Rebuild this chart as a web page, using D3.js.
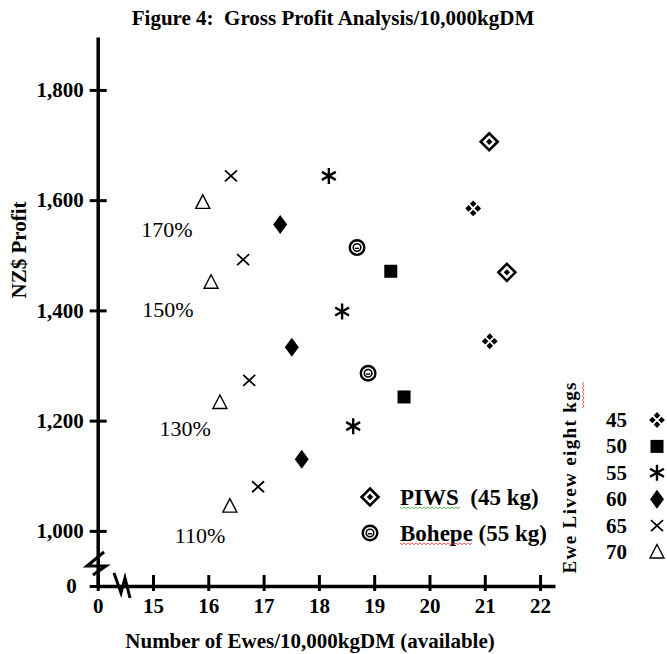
<!DOCTYPE html>
<html>
<head>
<meta charset="utf-8">
<script src="https://cdn.jsdelivr.net/npm/d3@7"></script>
<style>
  body { margin: 0; background: #fff; }
  text { font-family: "Liberation Serif", "Times New Roman", serif; fill: #000; white-space: pre; }
</style>
</head>
<body>
<div id="chart"></div>
<script>
// values
const weights = [45, 50, 55, 60, 65, 70];
// ewes per 10,000kgDM, one list per liveweight
const ewes = [
    [20.79, 21.09],
    [19.30, 19.54],
    [18.18, 18.42, 18.62],
    [17.30, 17.51, 17.69],
    [16.41, 16.63, 16.74, 16.90],
    [15.90, 16.05, 16.21, 16.39]
];
// NZ$ profit, same order
const profit = [
    [1585, 1344],
    [1471, 1243],
    [1644, 1398, 1190],
    [1556, 1333, 1130],
    [1644, 1492, 1273, 1080],
    [1596, 1451, 1233, 1045]
];
const piwsEwes = [21.08, 21.40];
const piwsProfit = [1706, 1469];
const bohepeEwes = [18.69, 18.89];
const bohepeProfit = [1514, 1286];

// lambing % annotations
const pctLabels = ['170%', '150%', '130%', '110%'];
const pctEwes = [15.25, 15.27, 15.58, 15.85];
const pctProfit = [1547, 1402, 1186, 991];

// broken axes: 14 and 900 stand for the "0" origin
const xTicks = [14, 15, 16, 17, 18, 19, 20, 21, 22];
const xTickLabels = ['0', '15', '16', '17', '18', '19', '20', '21', '22'];
const yTicks = [900, 1000, 1200, 1400, 1600, 1800];
const yTickLabels = ['0', '1,000', '1,200', '1,400', '1,600', '1,800'];

const width = 667,
    height = 654;

const svg = d3.select('#chart')
    .append('svg')
    .attr('width', width)
    .attr('height', height);

const x = d3.scaleLinear().domain([14, 22.27]).range([97.7, 555]);
const y = d3.scaleLinear().domain([900, 1896]).range([586, 37]);

// x axis
const gx = svg.append('g')
    .attr('transform', `translate(0,${y(900)})`)
    .call(d3.axisBottom(x)
        .tickValues(xTicks)
        .tickFormat((d, i) => xTickLabels[i])
        .tickSizeOuter(0));
gx.select('.domain').attr('stroke-width', 3.5);
gx.selectAll('.tick line').attr('y1', -11).attr('y2', 5).attr('stroke-width', 3);
gx.selectAll('.tick text')
    .attr('y', 12)
    .attr('font-size', 21)
    .attr('font-weight', 'bold')
    .attr('font-family', 'Liberation Serif');

// y axis
const gy = svg.append('g')
    .attr('transform', `translate(${x(14)},0)`)
    .call(d3.axisLeft(y)
        .tickValues(yTicks)
        .tickFormat((d, i) => yTickLabels[i])
        .tickSizeOuter(0));
gy.select('.domain').attr('stroke-width', 3.5);
gy.selectAll('.tick line').attr('x1', -8).attr('x2', 9).attr('stroke-width', 3);
gy.selectAll('.tick text')
    .attr('x', -14)
    .attr('font-size', 21)
    .attr('font-weight', 'bold')
    .attr('font-family', 'Liberation Serif');
gy.selectAll('.tick').filter(d => d === 900).select('text').attr('x', -21);

// axis break marks
const brk = svg.append('g')
    .attr('fill', 'none')
    .attr('stroke', '#000')
    .attr('stroke-width', 3)
    .attr('stroke-linejoin', 'miter');
brk.append('path').attr('d', 'M104,552 L87,566 L106,566 L93,575');
brk.append('path').attr('d', 'M114,573 L121,593 L125,578 L130,598');

// marker shapes
const shapes = {
    45: g => {
        const p = d3.path();
        [[0, -4.6], [4.6, 0], [0, 4.6], [-4.6, 0]].forEach(([dx, dy]) => {
            p.moveTo(dx, dy - 3.3);
            p.lineTo(dx + 3.3, dy);
            p.lineTo(dx, dy + 3.3);
            p.lineTo(dx - 3.3, dy);
            p.closePath();
        });
        g.append('path').attr('d', p.toString()).attr('fill', '#000');
    },
    50: g => {
        g.append('rect').attr('x', -6.5).attr('y', -6.5)
            .attr('width', 13).attr('height', 13).attr('fill', '#000');
    },
    55: g => {
        const p = d3.path();
        [90, 30, 150].forEach(a => {
            const r = 8, t = a * Math.PI / 180;
            p.moveTo(r * Math.cos(t), r * Math.sin(t));
            p.lineTo(-r * Math.cos(t), -r * Math.sin(t));
        });
        g.append('path').attr('d', p.toString())
            .attr('stroke', '#000').attr('stroke-width', 2.4).attr('fill', 'none');
    },
    60: g => {
        g.append('path').attr('d', 'M0,-9.5L7,0L0,9.5L-7,0Z').attr('fill', '#000');
    },
    65: g => {
        g.append('path').attr('d', 'M-6,-5.5L6,5.5M-6,5.5L6,-5.5')
            .attr('stroke', '#000').attr('stroke-width', 1.8).attr('fill', 'none');
    },
    70: g => {
        g.append('path').attr('d', 'M0,-7.5L7,6L-7,6Z')
            .attr('stroke', '#000').attr('stroke-width', 1.4).attr('fill', 'none');
    },
    piws: g => {
        g.append('path').attr('d', 'M0,-8.5L8.5,0L0,8.5L-8.5,0Z')
            .attr('stroke', '#000').attr('stroke-width', 2.6).attr('fill', 'none');
        g.append('path').attr('d', 'M0,-3.2L3.2,0L0,3.2L-3.2,0Z').attr('fill', '#000');
    },
    bohepe: g => {
        g.append('circle').attr('r', 7.3)
            .attr('stroke', '#000').attr('stroke-width', 2.4).attr('fill', 'none');
        g.append('circle').attr('r', 3.8)
            .attr('stroke', '#000').attr('stroke-width', 1.6).attr('fill', 'none');
        g.append('path').attr('d', 'M-2,0.8H2').attr('stroke', '#000').attr('stroke-width', 1.4);
    }
};

// points, one group per liveweight
weights.forEach((w, i) => {
    const pts = ewes[i].map((e, j) => ({ e: e, p: profit[i][j] }));
    svg.append('g')
        .selectAll('g')
        .data(pts)
        .enter()
        .append('g')
        .attr('transform', d => `translate(${x(d.e)},${y(d.p)})`)
        .each(function () { shapes[w](d3.select(this)); });
});

svg.append('g')
    .selectAll('g')
    .data(piwsEwes.map((e, j) => ({ e: e, p: piwsProfit[j] })))
    .enter()
    .append('g')
    .attr('transform', d => `translate(${x(d.e)},${y(d.p)})`)
    .each(function () { shapes.piws(d3.select(this)); });

svg.append('g')
    .selectAll('g')
    .data(bohepeEwes.map((e, j) => ({ e: e, p: bohepeProfit[j] })))
    .enter()
    .append('g')
    .attr('transform', d => `translate(${x(d.e)},${y(d.p)})`)
    .each(function () { shapes.bohepe(d3.select(this)); });

// % labels
svg.append('g')
    .selectAll('text')
    .data(pctLabels)
    .enter()
    .append('text')
    .attr('x', (d, i) => x(pctEwes[i]))
    .attr('y', (d, i) => y(pctProfit[i]))
    .attr('text-anchor', 'middle')
    .attr('dominant-baseline', 'central')
    .attr('font-size', 22)
    .text(d => d);

// titles
svg.append('text')
    .attr('x', 333).attr('y', 25)
    .attr('text-anchor', 'middle')
    .attr('font-size', 21).attr('font-weight', 'bold')
    .text('Figure 4:  Gross Profit Analysis/10,000kgDM');

svg.append('text')
    .attr('x', 310).attr('y', 648)
    .attr('text-anchor', 'middle')
    .attr('font-size', 21).attr('font-weight', 'bold')
    .text('Number of Ewes/10,000kgDM (available)');

svg.append('text')
    .attr('transform', 'translate(26,250) rotate(-90)')
    .attr('text-anchor', 'middle')
    .attr('font-size', 21).attr('font-weight', 'bold')
    .text('NZ$ Profit');

// wavy spell-check underline
function wavy(x0, x1, yy) {
    const p = d3.path();
    p.moveTo(x0, yy);
    let k = 0;
    for (let xx = x0 + 2; xx <= x1; xx += 2) {
        p.lineTo(xx, yy + (k++ % 2 ? 0 : 1.6));
    }
    return p.toString();
}

// weight legend (right)
svg.append('text')
    .attr('transform', 'translate(576,478) rotate(-90)')
    .attr('text-anchor', 'middle')
    .attr('font-size', 19).attr('font-weight', 'bold')
    .attr('textLength', 191).attr('lengthAdjust', 'spacing')
    .text('Ewe Livew eight kgs');
svg.append('path')
    .attr('d', wavy(382, 408, 0))
    .attr('transform', 'translate(584,0) rotate(90)')
    .attr('stroke', '#d33').attr('stroke-width', 0.8).attr('fill', 'none');

const leg = svg.append('g')
    .selectAll('g')
    .data(weights)
    .enter()
    .append('g')
    .attr('transform', (d, i) => `translate(0,${420 + i * 26.4})`);
leg.append('text')
    .attr('x', 627)
    .attr('text-anchor', 'end')
    .attr('dominant-baseline', 'central')
    .attr('font-size', 21).attr('font-weight', 'bold')
    .text(d => d);
leg.append('g')
    .attr('transform', 'translate(657,0)')
    .each(function (d) { shapes[d](d3.select(this)); });

// PIWS / Bohepe legend
const leg2 = svg.append('g');
shapes.piws(leg2.append('g').attr('transform', 'translate(370,497)'));
shapes.bohepe(leg2.append('g').attr('transform', 'translate(370,533)'));
leg2.append('text')
    .attr('x', 400).attr('y', 497)
    .attr('dominant-baseline', 'central')
    .attr('font-size', 23).attr('font-weight', 'bold')
    .text('PIWS  (45 kg)');
leg2.append('text')
    .attr('x', 400).attr('y', 533)
    .attr('dominant-baseline', 'central')
    .attr('font-size', 23).attr('font-weight', 'bold')
    .text('Bohepe (55 kg)');
leg2.append('path').attr('d', wavy(400, 460, 507))
    .attr('stroke', '#3a3').attr('stroke-width', 0.8).attr('fill', 'none');
leg2.append('path').attr('d', wavy(400, 472, 543))
    .attr('stroke', '#d33').attr('stroke-width', 0.8).attr('fill', 'none');
</script>
</body>
</html>
